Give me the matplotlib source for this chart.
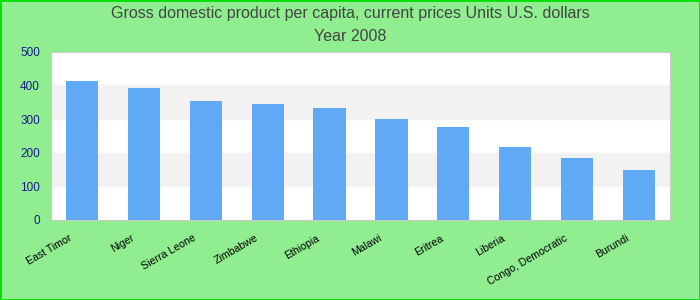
import matplotlib.pyplot as plt
import matplotlib.transforms as mtransforms
from matplotlib.patches import Rectangle

plt.rcParams['font.family'] = ['Liberation Sans', 'DejaVu Sans']

# datos
countries = ['East Timor', 'Niger', 'Sierra Leone', 'Zimbabwe', 'Ethiopia',
             'Malawi', 'Eritrea', 'Liberia', 'Congo, Democratic', 'Burundi']
gdp = [413, 392, 354, 345, 333, 300, 277, 217, 185, 149]
yticks = [0, 100, 200, 300, 400, 500]

fig = plt.figure(figsize=(7, 3), dpi=100, facecolor='#90ee90')
fig.patches.append(Rectangle((0, 0), 1, 1, transform=fig.transFigure,
                             fill=False, edgecolor='#00e000', linewidth=2))

ax = fig.add_axes([0.073, 0.267, 0.884, 0.56])
ax.set_facecolor('white')

# bandas grises alternas
for i in range(len(yticks) - 1):
    if i % 2 == 1:
        ax.axhspan(yticks[i], yticks[i + 1], color='#f2f2f2', zorder=0)

x = range(len(countries))
ax.bar(x, gdp, width=0.52, color='#60a9f4', zorder=2)

ax.set_xlim(-0.5, len(countries) - 0.5)
ax.set_ylim(0, 500)
ax.set_yticks(yticks)
ax.tick_params(axis='y', length=0, colors='#1a1a8c', labelsize=8.5, pad=8)
ax.tick_params(axis='x', length=0, labelsize=7.6, pad=9.5)
ax.set_xticks(list(x))
ax.set_xticklabels(countries, rotation=30, ha='right')

# desplazamos las etiquetas unos píxeles a la izquierda
shift = mtransforms.ScaledTranslation(-8 / 100, 0, fig.dpi_scale_trans)
for lbl in ax.get_xticklabels():
    lbl.set_transform(lbl.get_transform() + shift)

for side in ['top', 'right', 'bottom', 'left']:
    ax.spines[side].set_color('#cccccc')

fig.text(0.5, 0.955, 'Gross domestic product per capita, current prices Units U.S. dollars',
         ha='center', va='center', fontsize=11.5, color='#444444')
fig.text(0.5, 0.878, 'Year 2008', ha='center', va='center', fontsize=11.5, color='#444444')

fig.savefig('out.png', dpi=100, facecolor=fig.get_facecolor())
